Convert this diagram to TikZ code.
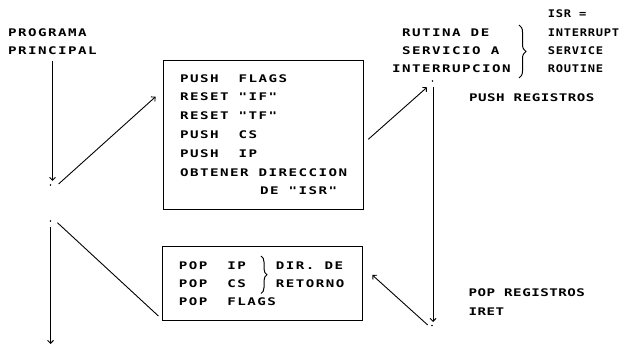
\documentclass[tikz,border=0pt]{standalone}
\usepackage{fontspec}
\usetikzlibrary{arrows.meta,decorations.pathreplacing}
% dot-matrix style lettering: stretched, letter-spaced bold monospace
\newfontfamily\dotfont[FakeStretch=1.35,LetterSpace=14]{DejaVu Sans Mono Bold}
\newfontfamily\dotnarrow[FakeStretch=1.35,LetterSpace=4.5]{DejaVu Sans Mono Bold}
\newfontfamily\dotsmall[FakeStretch=1.15,LetterSpace=7]{DejaVu Sans Mono Bold}
% blank character cells of each lettering
\newcommand\sk{\hspace*{10pt}}
\newcommand\skn{\hspace*{9pt}}
\newcommand\sks{\hspace*{8pt}}
\tikzset{
  lbl/.style={inner sep=0pt, align=left, anchor=west,
    font=\dotfont\fontsize{10.5}{18.4}\selectfont},
  lblnarrow/.style={lbl, font=\dotnarrow\fontsize{10.5}{19}\selectfont},
  lblsmall/.style={lbl, font=\dotsmall\fontsize{10.5}{18.3}\selectfont},
  stepbox/.style={draw, line width=0.9pt, inner ysep=0pt, inner xsep=16.5pt,
    minimum width=200pt, text width=167pt, align=left},
  flow/.style={line width=0.9pt, -{Straight Barb[length=3pt,width=6pt]}},
  plain/.style={line width=0.9pt},
  dotmark/.style={circle, fill, inner sep=0pt, minimum size=1.8pt},
  curly/.style={line width=1pt, decorate, decoration={brace, amplitude=#1}},
}
\begin{document}
\begin{tikzpicture}[x=1pt, y=-1pt]
\useasboundingbox (0,0) rectangle (621,347);

% labels of the two program levels
\node[lbl] (prog) at (7.9,41.5) {PROGRAMA\\PRINCIPAL};
\node[lbl] (isrname) at (392,50.7) {\sk RUTINA\sk DE\\\sk SERVICIO\sk A\\INTERRUPCION};
\node[lblsmall] (isrdef) at (547.7,41.5) {ISR\sks =\\INTERRUPT\\SERVICE\\ROUTINE};
\draw[curly=7pt] (519,25) -- (519,78);

% hardware sequence on entering the interrupt
\node[stepbox, minimum height=149pt,
  font=\dotfont\fontsize{10.5}{18.8}\selectfont] (entry) at (263.6,134.7)
  {PUSH\sk\sk FLAGS\\RESET\sk "IF"\\RESET\sk "TF"\\PUSH\sk\sk CS\\PUSH\sk\sk IP\\
   OBTENER\sk DIRECCION\\\sk\sk\sk\sk\sk\sk\sk\sk DE\sk "ISR"};

% sequence executed by IRET
\node[stepbox, minimum height=74pt,
  font=\dotfont\fontsize{10.5}{18.3}\selectfont] (exit) at (262.4,283.7)
  {POP\sk\sk IP\sk\sk\sk DIR.\sk DE\\POP\sk\sk CS\sk\sk\sk RETORNO\\POP\sk\sk FLAGS};
\draw[curly=6pt] (261,256) -- (261,293.5);

% notes beside the service routine
\node[lblnarrow] (pushreg) at (469,97.3) {PUSH\skn REGISTROS};
\node[lblnarrow] (popreg) at (468.5,302.2) {POP\skn REGISTROS\\IRET};

% points where control is handed over
\node[dotmark] (brk) at (50.5,185) {};
\node[dotmark] (isrtop) at (432.5,81) {};
\node[dotmark] (resume) at (50.5,221) {};
\node[dotmark] (isrend) at (432,325.5) {};

\coordinate (mainA) at (52.5,61);
\coordinate (mainB) at (52.5,181);
\coordinate (toentryA) at (58.6,184);
\coordinate (toentryB) at (155.6,96.7);
\coordinate (toisrA) at (368.3,139.3);
\coordinate (toisrB) at (427,87.3);
\coordinate (isrA) at (433,87);
\coordinate (isrB) at (433,322);
\coordinate (toexitA) at (427.7,325);
\coordinate (toexitB) at (372.3,275);
\coordinate (backA) at (57.4,222.7);
\coordinate (backB) at (158.4,316);
\coordinate (mainC) at (50.5,227);
\coordinate (mainD) at (50.5,344);

\draw[flow] (mainA) -- (mainB);
\draw[flow] (toentryA) -- (toentryB);
\draw[flow] (toisrA) -- (toisrB);
\draw[flow] (isrA) -- (isrB);
\draw[flow] (toexitA) -- (toexitB);
\draw[plain] (backA) -- (backB);
\draw[flow] (mainC) -- (mainD);
\end{tikzpicture}
\end{document}
